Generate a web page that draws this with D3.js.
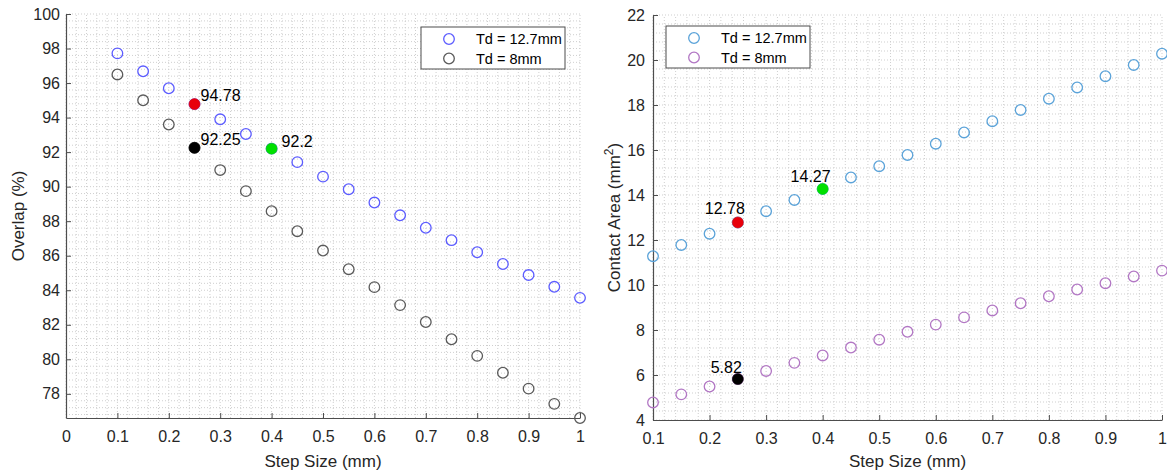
<!DOCTYPE html>
<html>
<head>
<meta charset="utf-8">
<script src="https://cdn.jsdelivr.net/npm/d3@7"></script>
<style>
  html, body { margin: 0; padding: 0; background: #fff; }
  svg { display: block; font-family: "Liberation Sans", Arial, sans-serif; }
</style>
</head>
<body>
<svg id="chart" width="1167" height="471"></svg>
<script>
// ---- data ----
const stepSize = [0.1,0.15,0.2,0.25,0.3,0.35,0.4,0.45,0.5,0.55,0.6,0.65,0.7,0.75,0.8,0.85,0.9,0.95,1.0];

const overlap127 = [97.72,96.68,95.7,94.78,93.9,93.05,92.2,91.42,90.58,89.85,89.08,88.34,87.62,86.9,86.2,85.52,84.88,84.2,83.56];
const overlap8   = [96.5,95.0,93.6,92.25,90.96,89.74,88.58,87.42,86.3,85.22,84.18,83.14,82.16,81.16,80.2,79.22,78.3,77.42,76.6];

const area127 = [11.28,11.78,12.28,12.78,13.28,13.78,14.27,14.78,15.28,15.78,16.28,16.78,17.28,17.78,18.28,18.78,19.28,19.78,20.28];
const area8   = [4.78,5.14,5.49,5.82,6.18,6.54,6.87,7.22,7.57,7.92,8.24,8.56,8.87,9.19,9.5,9.8,10.08,10.38,10.64];

const legendLabels = ["Td = 12.7mm", "Td = 8mm"];

const leftXTicks  = [0,0.1,0.2,0.3,0.4,0.5,0.6,0.7,0.8,0.9,1];
const leftYTicks  = [78,80,82,84,86,88,90,92,94,96,98,100];
const rightXTicks = [0.1,0.2,0.3,0.4,0.5,0.6,0.7,0.8,0.9,1];
const rightYTicks = [4,6,8,10,12,14,16,18,20,22];

// highlighted points: [x, y, label, color]
const leftHighlights  = [[0.25, 94.78, "94.78", "#e8000b"], [0.25, 92.25, "92.25", "#000000"], [0.4, 92.2, "92.2", "#00e000"]];
const rightHighlights = [[0.4, 14.27, "14.27", "#00e000"], [0.25, 12.78, "12.78", "#e8000b"], [0.25, 5.82, "5.82", "#000000"]];

// ---- drawing ----
const svg = d3.select("#chart");
const axisColor = "#4d4d4d";
const textColor = "#262626";

function panel(cfg) {
  const x = d3.scaleLinear().domain(cfg.xDomain).range(cfg.xRange);
  const y = d3.scaleLinear().domain(cfg.yDomain).range(cfg.yRange);
  const g = svg.append("g");

  // minor grid
  const xMinor = d3.range(0, 1.0001, 0.02).filter(v => v >= cfg.xDomain[0] - 1e-9 && v <= cfg.xDomain[1] + 1e-9);
  const yMinor = d3.range(Math.ceil(cfg.yDomain[0] / 0.4) * 0.4, cfg.yDomain[1] + 1e-9, 0.4);
  g.append("g").selectAll("line").data(xMinor).join("line")
    .attr("x1", d => x(d)).attr("x2", d => x(d))
    .attr("y1", cfg.yRange[0]).attr("y2", cfg.yRange[1])
    .attr("stroke", "#cfcfcf").attr("stroke-width", 1).attr("stroke-dasharray", "1,2");
  g.append("g").selectAll("line").data(yMinor).join("line")
    .attr("x1", cfg.xRange[0]).attr("x2", cfg.xRange[1])
    .attr("y1", d => y(d)).attr("y2", d => y(d))
    .attr("stroke", "#cfcfcf").attr("stroke-width", 1).attr("stroke-dasharray", "1,2");

  // axes
  const fmt = d => (d === 0 ? "0" : d === 1 ? "1" : d3.format("")(+d.toFixed(2)));
  const xa = g.append("g").attr("transform", `translate(0,${cfg.yRange[0]})`)
    .call(d3.axisBottom(x).tickValues(cfg.xTicks).tickFormat(fmt).tickSizeInner(-5).tickSizeOuter(0).tickPadding(13));
  const ya = g.append("g").attr("transform", `translate(${cfg.xRange[0]},0)`)
    .call(d3.axisLeft(y).tickValues(cfg.yTicks).tickFormat(d3.format("d")).tickSizeInner(-5).tickSizeOuter(0).tickPadding(cfg.yPad));
  [xa, ya].forEach(a => {
    a.select(".domain").attr("stroke", axisColor).attr("stroke-width", 1.2);
    a.selectAll(".tick line").attr("stroke", axisColor).attr("stroke-width", 1);
    a.selectAll(".tick text").attr("fill", textColor).attr("font-size", 16)
      .attr("font-family", '"Liberation Sans", Arial, sans-serif');
  });

  // axis labels
  g.append("text").attr("x", (cfg.xRange[0] + cfg.xRange[1]) / 2).attr("y", 467)
    .attr("text-anchor", "middle").attr("font-size", 17).attr("fill", textColor).text("Step Size (mm)");
  const yl = g.append("text")
    .attr("transform", `translate(${cfg.yLabelX},${(cfg.yRange[0] + cfg.yRange[1]) / 2}) rotate(-90)`)
    .attr("text-anchor", "middle").attr("font-size", 17).attr("fill", textColor);
  if (cfg.yLabelSup) {
    yl.append("tspan").text(cfg.yLabel);
    yl.append("tspan").attr("dy", -7).attr("font-size", 12).text(cfg.yLabelSup);
    yl.append("tspan").attr("dy", 7).text(")");
  } else {
    yl.text(cfg.yLabel);
  }

  // series
  cfg.series.forEach(s => {
    g.append("g").selectAll("circle").data(stepSize.map((v, i) => [v, s.values[i]])).join("circle")
      .attr("cx", d => x(d[0])).attr("cy", d => y(d[1])).attr("r", 5.3)
      .attr("fill", "none").attr("stroke", s.color).attr("stroke-width", 1.3);
  });

  // highlights
  cfg.highlights.forEach((h, i) => {
    g.append("circle").attr("cx", x(h[0])).attr("cy", y(h[1])).attr("r", 5.5)
      .attr("fill", h[3]).attr("stroke", h[3]).attr("stroke-width", 0.5);
    const off = cfg.labelOffsets[i];
    g.append("text").attr("x", x(h[0]) + off[0]).attr("y", y(h[1]) + off[1])
      .attr("text-anchor", off[2]).attr("font-size", 16).attr("fill", "#000").text(h[2]);
  });

  // legend
  const L = cfg.legend;
  g.append("rect").attr("x", L.x).attr("y", L.y).attr("width", 144).attr("height", 42)
    .attr("fill", "#fff").attr("stroke", "#4d4d4d").attr("stroke-width", 1);
  cfg.series.forEach((s, i) => {
    const cy = L.y + 12 + i * 19.5;
    g.append("circle").attr("cx", L.x + 28).attr("cy", cy).attr("r", 5.3)
      .attr("fill", "none").attr("stroke", s.color).attr("stroke-width", 1.3);
    g.append("text").attr("x", L.x + 55).attr("y", cy + 5).attr("font-size", 14.5)
      .attr("fill", "#000").text(legendLabels[i]);
  });
}

panel({
  xDomain: [0, 1], xRange: [66, 580],
  yDomain: [76.6, 100], yRange: [418, 14],
  xTicks: leftXTicks, yTicks: leftYTicks, yPad: 6,
  yLabel: "Overlap (%)", yLabelX: 24,
  series: [{values: overlap127, color: "#5c5cff"}, {values: overlap8, color: "#5a5a5a"}],
  highlights: leftHighlights,
  labelOffsets: [[6, -3, "start"], [6, -3, "start"], [10, -2, "start"]],
  legend: {x: 421, y: 27}
});

panel({
  xDomain: [0.1, 1], xRange: [653, 1162],
  yDomain: [4, 22], yRange: [420, 15],
  xTicks: rightXTicks, yTicks: rightYTicks, yPad: 8,
  yLabel: "Contact Area (mm", yLabelSup: "2", yLabelX: 620,
  series: [{values: area127, color: "#5ba3d9"}, {values: area8, color: "#b277c4"}],
  highlights: rightHighlights,
  labelOffsets: [[8, -7, "end"], [7, -8, "end"], [4, -6, "end"]],
  legend: {x: 666, y: 26}
});
</script>
</body>
</html>
